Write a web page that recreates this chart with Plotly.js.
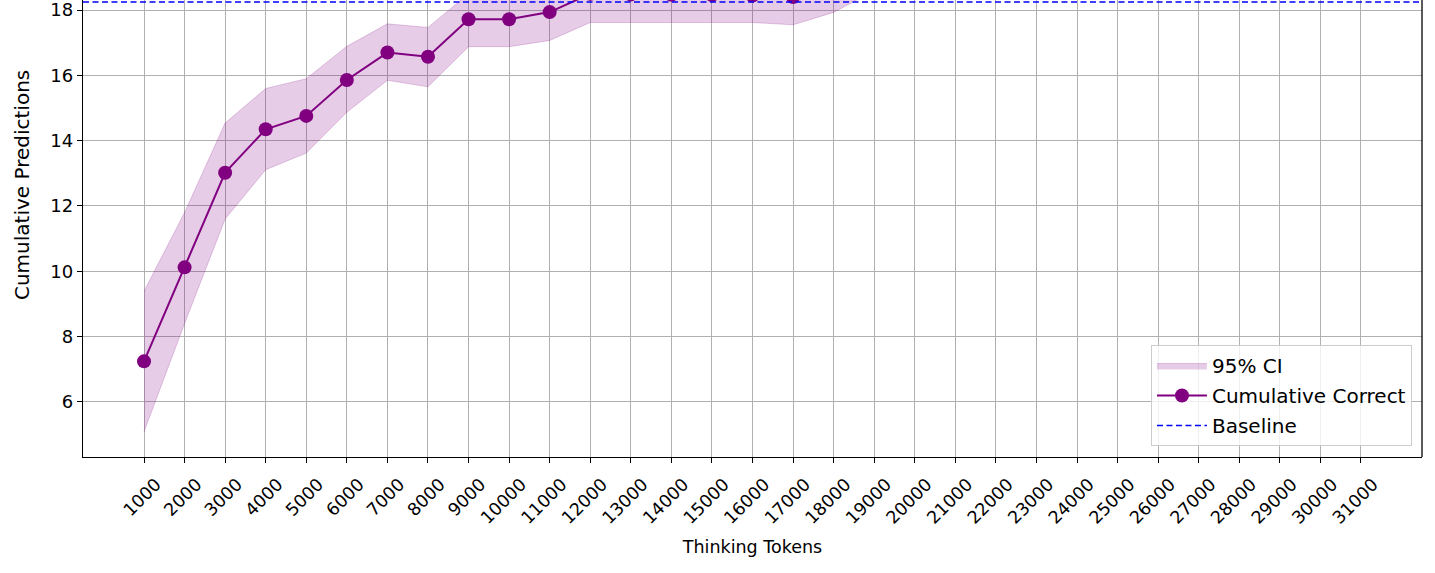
<!DOCTYPE html>
<html>
<head>
<meta charset="utf-8">
<script src="https://cdn.plot.ly/plotly-3.0.1.min.js"></script>
<style>
  html, body { margin: 0; padding: 0; background: #fff; }
  #plot { width: 1435px; height: 573px; }
</style>
</head>
<body>
<div id="plot"></div>
<script>
// thinking token budgets (x axis)
const tokens = [1000, 2000, 3000, 4000, 5000, 6000, 7000, 8000, 9000, 10000,
  11000, 12000, 13000, 14000, 15000, 16000, 17000, 18000, 19000, 20000,
  21000, 22000, 23000, 24000, 25000, 26000, 27000, 28000, 29000, 30000, 31000];

// mean cumulative correct predictions (top values run past the view)
const cumCorrect = [7.24, 10.12, 13.02, 14.35, 14.76, 15.86, 16.70, 16.57, 17.72, 17.72,
  17.94, 18.5, 18.48, 18.47, 18.46, 18.45, 18.4, 18.8, 19.2, 19.4,
  19.5, 19.6, 19.6, 19.7, 19.7, 19.8, 19.8, 19.8, 19.9, 19.9, 19.9];

// 95% confidence interval bounds
const ciLower = [5.08, 8.4, 11.6, 13.11, 13.62, 14.87, 15.85, 15.65, 16.88, 16.88,
  17.07, 17.62, 17.62, 17.62, 17.62, 17.62, 17.55, 17.93, 18.6, 18.8,
  18.9, 19.0, 19.0, 19.1, 19.1, 19.2, 19.2, 19.2, 19.3, 19.3, 19.3];
const ciUpper = [9.39, 11.8, 14.54, 15.6, 15.9, 16.89, 17.58, 17.47, 18.5, 18.5,
  18.7, 19.3, 19.3, 19.3, 19.3, 19.3, 19.2, 19.6, 19.8, 20.0,
  20.1, 20.2, 20.2, 20.3, 20.3, 20.4, 20.4, 20.4, 20.5, 20.5, 20.5];

const baseline = 18.25;

const font = "DejaVu Sans, sans-serif";

const lowerTrace = {
  x: tokens,
  y: ciLower,
  mode: "lines",
  line: { color: "rgba(128,0,128,0.2)", width: 1 },
  showlegend: false,
  legendgroup: "ci",
  hoverinfo: "skip",
};

const upperTrace = {
  x: tokens,
  y: ciUpper,
  mode: "lines",
  fill: "tonexty",
  fillcolor: "rgba(128,0,128,0.2)",
  line: { color: "rgba(128,0,128,0.2)", width: 1 },
  name: "95% CI",
  legendgroup: "ci",
  legendrank: 1,
};

const meanTrace = {
  x: tokens,
  y: cumCorrect,
  mode: "lines+markers",
  line: { color: "#800080", width: 2 },
  marker: { color: "#800080", size: 14 },
  name: "Cumulative Correct",
  legendgroup: "mean",
  legendrank: 2,
};

// baseline sits on a hidden overlay axis so it spans the full width (like axhline)
const baselineTrace = {
  x: [tokens[0], tokens[tokens.length - 1]],
  y: [baseline, baseline],
  xaxis: "x2",
  mode: "lines",
  line: { color: "#0000ff", width: 1.5, dash: "6px,3.5px" },
  name: "Baseline",
  legendgroup: "base",
  legendrank: 3,
};

const layout = {
  width: 1435,
  height: 573,
  margin: { l: 83, r: 13, t: 0, b: 116 },
  paper_bgcolor: "#fff",
  plot_bgcolor: "#fff",
  font: { family: font, size: 17, color: "#000" },
  xaxis: {
    range: [-504, 32504],
    tickmode: "array",
    tickvals: tokens,
    ticktext: tokens.map(String),
    tickangle: -45,
    ticklabelshift: 12,
    ticklabelstandoff: 4,
    ticks: "outside",
    ticklen: 5,
    tickcolor: "#000",
    showline: true,
    linecolor: "#000",
    linewidth: 1.3,
    showgrid: true,
    gridcolor: "#b0b0b0",
    gridwidth: 1,
    zeroline: false,
    tickfont: { family: font, size: 17.5 },
    title: { text: "Thinking Tokens", font: { family: font, size: 17.5 }, standoff: 13 },
  },
  xaxis2: {
    overlaying: "x",
    range: [tokens[0], tokens[tokens.length - 1]],
    visible: false,
  },
  yaxis: {
    range: [4.31, 18.31],
    tickvals: [6, 8, 10, 12, 14, 16, 18],
    ticklabeloverflow: "allow",
    ticks: "outside",
    ticklen: 5,
    tickcolor: "#000",
    showline: true,
    linecolor: "#000",
    linewidth: 1.3,
    showgrid: true,
    gridcolor: "#b0b0b0",
    gridwidth: 1,
    zeroline: false,
    tickfont: { family: font, size: 18 },
  },
  annotations: [
    // y label centred on the full (cropped) axes, as in the source figure
    { text: "Cumulative Predictions", textangle: -90, showarrow: false,
      xref: "paper", yref: "paper", x: -0.0456, y: 0.595,
      xanchor: "center", yanchor: "middle",
      font: { family: font, size: 20, color: "#000" } },
  ],
  shapes: [
    // right spine
    { type: "line", xref: "paper", x0: 1, x1: 1, yref: "paper", y0: 0, y1: 1,
      line: { color: "#000", width: 1.3 } },
  ],
  legend: {
    x: 0.9925,
    y: 0.024,
    xanchor: "right",
    yanchor: "bottom",
    traceorder: "grouped",
    bgcolor: "rgba(255,255,255,0.8)",
    bordercolor: "#cccccc",
    borderwidth: 1,
    font: { family: font, size: 20 },
    tracegroupgap: 1,
    itemwidth: 50,
  },
};

Plotly.newPlot("plot", [lowerTrace, upperTrace, meanTrace, baselineTrace], layout, {
  displayModeBar: false,
  staticPlot: true,
});
</script>
</body>
</html>
